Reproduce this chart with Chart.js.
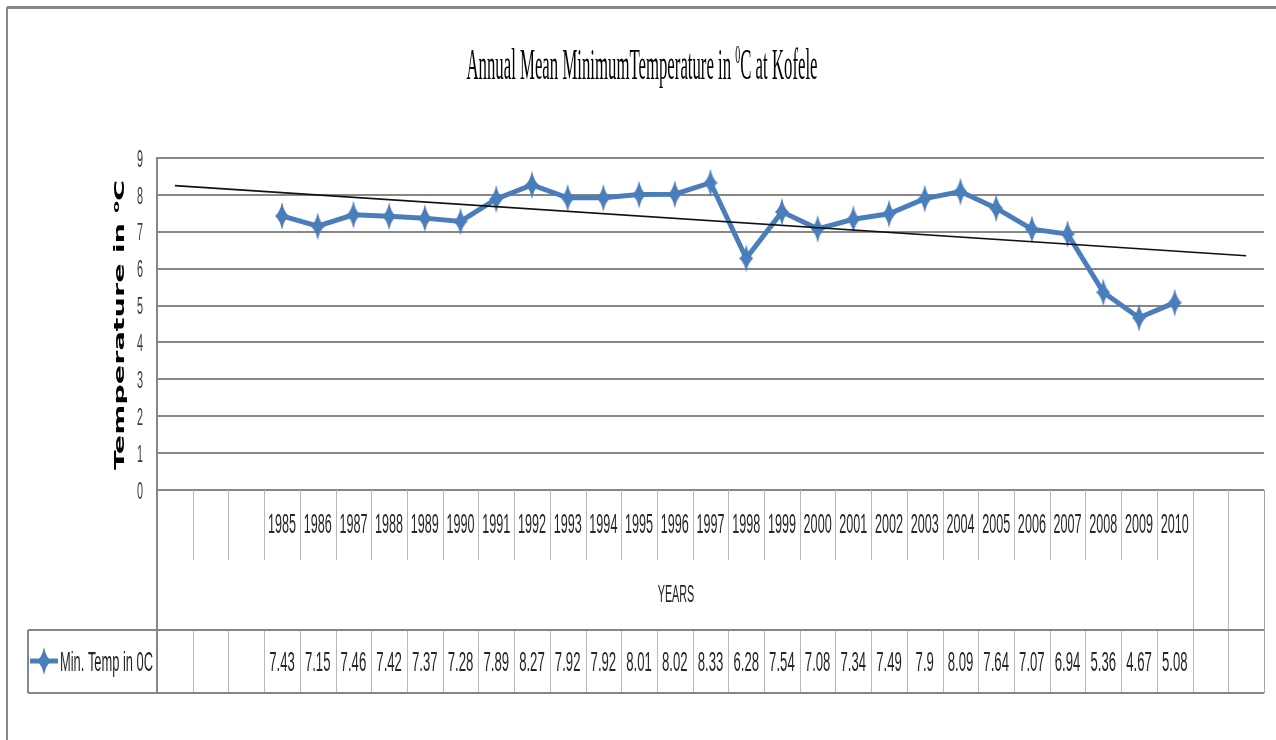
<!DOCTYPE html>
<html>
<head>
<meta charset="utf-8">
<title>Annual Mean Minimum Temperature at Kofele</title>
<script src="https://cdn.jsdelivr.net/npm/chart.js@4.4.1/dist/chart.umd.min.js"></script>
<style>
  html, body { margin: 0; padding: 0; background: #fff; }
  #wrap { width: 1276px; height: 740px; }
</style>
</head>
<body>
<div id="wrap"><canvas id="chart" width="1276" height="740"></canvas></div>
<script>
(() => {
  'use strict';

  // values
  const years = ['1985', '1986', '1987', '1988', '1989', '1990', '1991', '1992', '1993',
    '1994', '1995', '1996', '1997', '1998', '1999', '2000', '2001', '2002', '2003',
    '2004', '2005', '2006', '2007', '2008', '2009', '2010'];
  const minTemp = [7.43, 7.15, 7.46, 7.42, 7.37, 7.28, 7.89, 8.27, 7.92, 7.92, 8.01,
    8.02, 8.33, 6.28, 7.54, 7.08, 7.34, 7.49, 7.9, 8.09, 7.64, 7.07, 6.94, 5.36,
    4.67, 5.08];
  // empty category columns before and after the years
  const leadBlanks = 3;
  const trailBlanks = 2;
  // linear trendline, read where it starts (first column) and ends (last column)
  const trendEnds = [8.25, 6.35];
  const yTicks = [0, 1, 2, 3, 4, 5, 6, 7, 8, 9];
  const seriesName = 'Min. Temp in 0C';
  const axisTitle = 'YEARS';

  const BLUE = '#4a7ebb';
  const GRID = '#878787';
  const SEP = '#b9b9b9';
  const TEXT = '#262626';

  const labels = [
    ...Array(leadBlanks).fill(''),
    ...years,
    ...Array(trailBlanks).fill('')
  ];
  const tempData = [
    ...Array(leadBlanks).fill(null),
    ...minTemp,
    ...Array(trailBlanks).fill(null)
  ];
  const trendData = labels.map(() => null);
  trendData[0] = trendEnds[0];
  trendData[labels.length - 1] = trendEnds[1];

  function makeMarker(w, h, color) {
    const c = document.createElement('canvas');
    c.width = w;
    c.height = h;
    const g = c.getContext('2d');
    const cx = w / 2, cy = h / 2;
    g.fillStyle = color;
    g.beginPath();
    g.moveTo(cx, 0);
    g.quadraticCurveTo(cx + 2, cy - 4, w, cy);
    g.quadraticCurveTo(cx + 2, cy + 4, cx, h);
    g.quadraticCurveTo(cx - 2, cy + 4, 0, cy);
    g.quadraticCurveTo(cx - 2, cy - 4, cx, 0);
    g.fill();
    return c;
  }
  const marker = makeMarker(14, 28, BLUE);

  // text in the reference is strongly condensed, so squeeze it horizontally
  function squeezeText(ctx, text, x, y, sx, align) {
    const w = ctx.measureText(text).width * sx;
    let left = x;
    if (align === 'center') left = x - w / 2;
    else if (align === 'right') left = x - w;
    ctx.save();
    ctx.translate(left, y);
    ctx.scale(sx, 1);
    ctx.textAlign = 'left';
    ctx.fillText(text, 0, 0);
    ctx.restore();
  }

  function line(ctx, x1, y1, x2, y2) {
    ctx.beginPath();
    ctx.moveTo(x1, y1);
    ctx.lineTo(x2, y2);
    ctx.stroke();
  }

  function drawTitle(ctx) {
    const main = '44px "Liberation Serif"';
    const sup = '26px "Liberation Serif"';
    const parts = [
      { t: 'Annual Mean MinimumTemperature in ', f: main, dy: 0 },
      { t: '0', f: sup, dy: -16 },
      { t: 'C at Kofele', f: main, dy: 0 }
    ];
    let total = 0;
    parts.forEach(p => { ctx.font = p.f; p.w = ctx.measureText(p.t).width; total += p.w; });
    const sx = 351 / total;
    ctx.save();
    ctx.fillStyle = '#000';
    ctx.textBaseline = 'alphabetic';
    ctx.textAlign = 'left';
    ctx.translate(642 - 351 / 2, 79);
    ctx.scale(sx, 1);
    let x = 0;
    parts.forEach(p => {
      ctx.font = p.f;
      ctx.fillText(p.t, x, p.dy);
      x += p.w;
    });
    ctx.restore();
  }

  function drawYTitle(ctx) {
    const size = 28;
    const main = `bold ${size}px "DejaVu Sans"`;
    const sup = `bold ${Math.round(size * 0.62)}px "DejaVu Sans"`;
    const parts = [
      { t: 'Temperature in ', f: main, dy: 0 },
      { t: 'o', f: sup, dy: -9 },
      { t: 'C', f: main, dy: 0 }
    ];
    ctx.save();
    let total = 0;
    parts.forEach(p => { ctx.font = p.f; p.w = ctx.measureText(p.t).width; total += p.w; });
    const sl = 290 / total;
    ctx.translate(124, 325);
    ctx.rotate(-Math.PI / 2);
    ctx.scale(sl, 0.52);
    ctx.fillStyle = '#000';
    ctx.textBaseline = 'alphabetic';
    ctx.textAlign = 'left';
    let x = -total / 2;
    parts.forEach(p => {
      ctx.font = p.f;
      ctx.fillText(p.t, x, p.dy);
      x += p.w;
    });
    ctx.restore();
  }

  const tablePlugin = {
    id: 'dataTable',
    afterDraw(chart) {
      const { ctx, chartArea: area, scales: { x, y } } = chart;
      const n = labels.length;
      const colW = (area.right - area.left) / n;
      const edge = i => Math.round(area.left + i * colW) + 0.5;
      const headBottom = 560, rowTop = 630, rowBottom = 693, legendLeft = 28;

      ctx.save();

      // outer frame of the chart object
      ctx.strokeStyle = GRID;
      ctx.lineWidth = 3;
      line(ctx, 7, 7.5, 1276, 7.5);
      ctx.lineWidth = 2;
      line(ctx, 7, 7, 7, 740);

      // column separators of the data table
      ctx.lineWidth = 1;
      ctx.strokeStyle = SEP;
      for (let i = 1; i < n; i++) {
        const ex = edge(i);
        if (i >= n - trailBlanks) {
          line(ctx, ex, area.bottom, ex, rowBottom);
        } else {
          line(ctx, ex, area.bottom, ex, headBottom);
          line(ctx, ex, rowTop, ex, rowBottom);
        }
      }
      ctx.strokeStyle = '#a3a3a3';
      line(ctx, edge(n), area.bottom, edge(n), rowBottom);

      ctx.strokeStyle = GRID;
      ctx.lineWidth = 2;
      line(ctx, area.left, area.bottom, area.left, rowBottom);
      line(ctx, legendLeft, rowTop, area.right, rowTop);
      line(ctx, legendLeft, rowBottom, area.right, rowBottom);
      line(ctx, legendLeft, rowTop, legendLeft, rowBottom);

      // y tick labels
      ctx.fillStyle = '#3a3a3a';
      ctx.textBaseline = 'middle';
      ctx.font = '24px "Liberation Sans"';
      yTicks.forEach(v => squeezeText(ctx, String(v), 143, y.getPixelForValue(v) + 2, 0.45, 'right'));

      // category labels and values
      ctx.fillStyle = TEXT;
      ctx.font = '28px "Liberation Sans"';
      labels.forEach((lab, i) => {
        if (!lab) return;
        const cx = x.getPixelForValue(i);
        squeezeText(ctx, lab, cx, 525, 0.45, 'center');
        squeezeText(ctx, String(tempData[i]), cx, 663, 0.47, 'center');
      });

      ctx.font = '24px "Liberation Sans"';
      squeezeText(ctx, axisTitle, 676, 595, 0.45, 'center');

      // legend key inside the table
      ctx.strokeStyle = BLUE;
      ctx.lineWidth = 5;
      line(ctx, 30, 661, 58, 661);
      ctx.drawImage(marker, 44 - marker.width / 2, 661 - marker.height / 2);
      ctx.fillStyle = TEXT;
      ctx.font = '28px "Liberation Sans"';
      const keyW = ctx.measureText(seriesName).width;
      squeezeText(ctx, seriesName, 60, 663, 93 / keyW, 'left');

      drawTitle(ctx);
      drawYTitle(ctx);

      ctx.restore();
    }
  };

  new Chart(document.getElementById('chart'), {
    type: 'line',
    data: {
      labels,
      datasets: [
        {
          label: seriesName,
          data: tempData,
          order: 1,
          borderColor: BLUE,
          backgroundColor: BLUE,
          borderWidth: 5,
          pointStyle: marker,
          pointRadius: 7,
          tension: 0,
          spanGaps: false
        },
        {
          label: 'Linear (Min. Temp in 0C)',
          data: trendData,
          order: 0,
          borderColor: '#111',
          borderWidth: 1.6,
          pointRadius: 0,
          spanGaps: true,
          tension: 0
        }
      ]
    },
    options: {
      responsive: false,
      animation: false,
      devicePixelRatio: 1,
      layout: { padding: { top: 158, bottom: 250, left: 0, right: 8 } },
      plugins: {
        legend: { display: false },
        title: { display: false },
        tooltip: { enabled: false }
      },
      scales: {
        x: {
          type: 'category',
          offset: true,
          display: false
        },
        y: {
          min: yTicks[0],
          max: yTicks[yTicks.length - 1],
          ticks: { stepSize: 1, display: false },
          grid: { color: GRID, lineWidth: 2, drawTicks: false },
          border: { display: true, color: GRID, width: 2 },
          afterFit(scale) { scale.width = 157; }
        }
      }
    },
    plugins: [tablePlugin]
  });
})();
</script>
</body>
</html>
